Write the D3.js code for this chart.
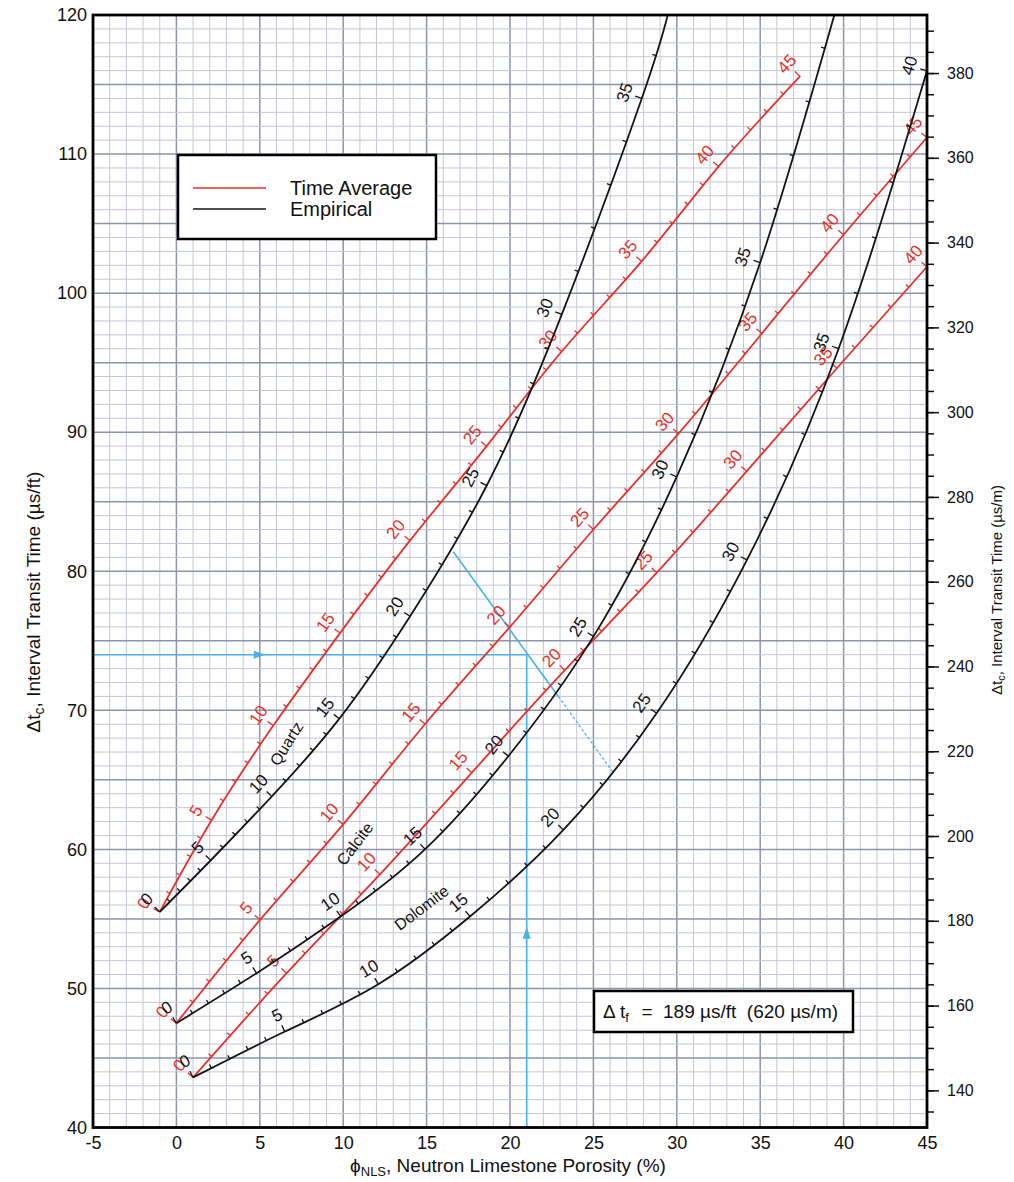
<!DOCTYPE html>
<html>
<head>
<meta charset="utf-8">
<script src="https://d3js.org/d3.v7.min.js"></script>
<title>Sonic - neutron crossplot</title>
<style>
body { margin: 0; background: #fff; }
svg { font-family: "Liberation Sans", Arial, Helvetica, sans-serif; }
</style>
</head>
<body>
<svg id="chart" width="1014" height="1182"></svg>
<script>
// tick labels
var phiTicks = [-5, 0, 5, 10, 15, 20, 25, 30, 35, 40, 45];
var dtFtTicks = [40, 50, 60, 70, 80, 90, 100, 110, 120];
var dtMTicks = [140, 160, 180, 200, 220, 240, 260, 280, 300, 320, 340, 360, 380];

// curves: [true porosity, neutron limestone porosity, delta t (us/ft)]
var quartzEmp = [[0, -1.0, 55.5], [5, 2.05, 59.2], [10, 5.71, 63.8], [15, 9.77, 69.4], [20, 14.0, 76.75],
                 [25, 18.6, 86.15], [30, 23.1, 98.45], [35, 27.9, 114.0], [37, 29.5, 120.2]];
var quartzTA = [[0, -1.0, 55.5], [5, 2.11, 62.1], [10, 5.81, 68.9], [15, 9.81, 75.55], [20, 14.0, 82.2],
                [25, 18.6, 89.0], [30, 23.1, 95.8], [35, 27.9, 102.3], [40, 32.5, 109.1], [45, 37.4, 115.6]];
var calciteEmp = [[0, 0, 47.5], [5, 4.81, 51.1], [10, 9.85, 55.17], [15, 14.9, 60.0], [20, 19.9, 66.7],
                  [25, 25.0, 75.3], [30, 30.0, 86.8], [35, 35.0, 102.2], [40, 39.8, 121.5]];
var calciteTA = [[0, 0, 47.5], [5, 5.01, 54.93], [10, 10.0, 61.8], [15, 14.9, 69.0], [20, 20.0, 76.0],
                 [25, 25.0, 83.0], [30, 30.1, 89.9], [35, 35.1, 97.1], [40, 40.0, 104.2], [45, 45.0, 111.2]];
var dolomiteEmp = [[0, 1.0, 43.6], [5, 6.51, 46.9], [10, 12.1, 50.3], [15, 17.6, 55.17], [20, 23.2, 61.4],
                   [25, 28.8, 69.8], [30, 34.2, 80.8], [35, 39.7, 96.0], [40, 45.0, 116.0]];
var dolomiteTA = [[0, 1.0, 43.6], [5, 6.61, 51.1], [10, 12.2, 58.2], [15, 17.7, 65.5], [20, 23.3, 72.9],
                  [25, 28.8, 79.9], [30, 34.2, 87.2], [35, 39.6, 94.6], [40, 45.0, 101.9]];

// mineral names: [name, phiNLS, delta t, angle]
var mineralLabels = [["Quartz", 6.6, 67.6, -58], ["Calcite", 10.7, 60.4, -53], ["Dolomite", 14.7, 55.8, -37]];

// example entry (blue)
var exampleDt = 74;
var examplePhi = 21;
var exampleSolid = [[16.6, 81.4], [22.9, 71.0]];
var exampleDash = [[22.9, 71.0], [26.2, 65.5]];

var red = "#e4322b", black = "#141414", blue = "#4ab2e6";
var plotL = 93, plotR = 927, plotT = 15, plotB = 1127.5;
var ftToM = 3.2808;

var svg = d3.select("#chart");
var x = d3.scaleLinear().domain([-5, 45]).range([plotL, plotR]);
var y = d3.scaleLinear().domain([40, 120]).range([plotB, plotT]);
var yM = d3.scaleLinear().domain([40 * ftToM, 120 * ftToM]).range([plotB, plotT]);

svg.append("rect").attr("width", 1014).attr("height", 1182).attr("fill", "#fff");

// grid
var grid = svg.append("g");
d3.range(-5, 46).forEach(function(v) {
    grid.append("line").attr("x1", x(v)).attr("x2", x(v)).attr("y1", plotT).attr("y2", plotB)
        .attr("stroke", v % 5 === 0 ? "#8e94aa" : "#c3c7d6").attr("stroke-width", v % 5 === 0 ? 1.5 : 1);
});
d3.range(40, 121).forEach(function(v) {
    grid.append("line").attr("y1", y(v)).attr("y2", y(v)).attr("x1", plotL).attr("x2", plotR)
        .attr("stroke", v % 5 === 0 ? "#8e94aa" : "#c3c7d6").attr("stroke-width", v % 5 === 0 ? 1.5 : 1);
});

svg.append("clipPath").attr("id", "plotclip").append("rect")
    .attr("x", plotL).attr("y", plotT).attr("width", plotR - plotL + 1).attr("height", plotB - plotT);

// blue example lines
var ex = svg.append("g").attr("stroke", blue).attr("stroke-width", 1.6).attr("fill", "none");
ex.append("line").attr("x1", x(-5)).attr("x2", x(examplePhi)).attr("y1", y(exampleDt)).attr("y2", y(exampleDt));
ex.append("line").attr("x1", x(examplePhi)).attr("x2", x(examplePhi)).attr("y1", y(40)).attr("y2", y(exampleDt));
ex.append("line").attr("x1", x(exampleSolid[0][0])).attr("y1", y(exampleSolid[0][1]))
    .attr("x2", x(exampleSolid[1][0])).attr("y2", y(exampleSolid[1][1]));
ex.append("line").attr("x1", x(exampleDash[0][0])).attr("y1", y(exampleDash[0][1]))
    .attr("x2", x(exampleDash[1][0])).attr("y2", y(exampleDash[1][1]))
    .attr("stroke-dasharray", "3,2").attr("stroke-width", 1.2);
// arrows
var ax = x(5), ay = y(exampleDt);
svg.append("path").attr("fill", blue)
    .attr("d", "M" + (ax + 6) + "," + ay + "L" + (ax - 6) + "," + (ay - 4) + "L" + (ax - 6) + "," + (ay + 4) + "Z");
var bx = x(examplePhi), by = y(54);
svg.append("path").attr("fill", blue)
    .attr("d", "M" + bx + "," + (by - 6) + "L" + (bx - 4) + "," + (by + 6) + "L" + (bx + 4) + "," + (by + 6) + "Z");

// curves with porosity ticks
var curves = svg.append("g");
var line = d3.line().curve(d3.curveNatural);

function drawCurve(pts, color) {
    var xy = pts.map(function(d) { return [x(d[1]), y(d[2])]; });
    var path = curves.append("path").attr("d", line(xy)).attr("fill", "none")
        .attr("stroke", color).attr("stroke-width", 1.8).attr("clip-path", "url(#plotclip)");
    var node = path.node();
    var total = node.getTotalLength();
    var samples = [];
    for (var l = 0; l <= total; l += 0.5) {
        var p = node.getPointAtLength(l);
        samples.push([l, p.x, p.y]);
    }
    var k = 0;
    var lens = xy.map(function(q) {
        var best = Infinity, bi = k;
        for (var j = k; j < samples.length; j++) {
            var dd = Math.pow(samples[j][1] - q[0], 2) + Math.pow(samples[j][2] - q[1], 2);
            if (dd < best) { best = dd; bi = j; }
        }
        k = bi;
        return samples[bi][0];
    });
    var last = pts[pts.length - 1][0];
    for (var por = pts[0][0]; por <= last; por++) {
        var i = 0;
        while (i < pts.length - 2 && por > pts[i + 1][0]) i++;
        var f = (por - pts[i][0]) / (pts[i + 1][0] - pts[i][0]);
        var L = lens[i] + f * (lens[i + 1] - lens[i]);
        var c = node.getPointAtLength(L);
        if (c.x > plotR + 1.5 || c.y < plotT - 1) continue;
        var a = node.getPointAtLength(Math.max(0, L - 1.5));
        var b = node.getPointAtLength(Math.min(total, L + 1.5));
        var len = Math.hypot(b.x - a.x, b.y - a.y);
        var tx = (b.x - a.x) / len, ty = (b.y - a.y) / len;
        var nx = ty, ny = -tx;
        var major = por % 5 === 0;
        var tl = major ? 7 : 4;
        curves.append("line").attr("x1", c.x).attr("y1", c.y)
            .attr("x2", c.x + nx * tl).attr("y2", c.y + ny * tl)
            .attr("stroke", color).attr("stroke-width", 1.3);
        if (major) {
            var lx = c.x + nx * 18, ly = c.y + ny * 18;
            var ang = Math.atan2(ty, tx) * 180 / Math.PI;
            curves.append("text").attr("x", lx).attr("y", ly)
                .attr("transform", "rotate(" + ang + "," + lx + "," + ly + ")")
                .attr("text-anchor", "middle").attr("dominant-baseline", "central")
                .attr("font-size", 17).attr("fill", color).text(por);
        }
    }
}

drawCurve(quartzTA, red);
drawCurve(calciteTA, red);
drawCurve(dolomiteTA, red);
drawCurve(quartzEmp, black);
drawCurve(calciteEmp, black);
drawCurve(dolomiteEmp, black);

mineralLabels.forEach(function(d) {
    var lx = x(d[1]), ly = y(d[2]);
    svg.append("text").attr("x", lx).attr("y", ly)
        .attr("transform", "rotate(" + d[3] + "," + lx + "," + ly + ")")
        .attr("text-anchor", "middle").attr("dominant-baseline", "central")
        .attr("font-size", 16).attr("fill", black).text(d[0]);
});

// legend
var lg = svg.append("g");
lg.append("rect").attr("x", 178).attr("y", 155).attr("width", 258).attr("height", 84)
    .attr("fill", "#fff").attr("stroke", "#000").attr("stroke-width", 2.5);
lg.append("line").attr("x1", 193).attr("x2", 266).attr("y1", 188).attr("y2", 188).attr("stroke", red).attr("stroke-width", 1.6);
lg.append("line").attr("x1", 193).attr("x2", 266).attr("y1", 209).attr("y2", 209).attr("stroke", black).attr("stroke-width", 1.6);
lg.append("text").attr("x", 290).attr("y", 195).attr("font-size", 20).attr("fill", "#111").text("Time Average");
lg.append("text").attr("x", 290).attr("y", 216).attr("font-size", 20).attr("fill", "#111").text("Empirical");

// fluid note
var nb = svg.append("g");
nb.append("rect").attr("x", 594).attr("y", 991).attr("width", 259).attr("height", 41)
    .attr("fill", "#fff").attr("stroke", "#000").attr("stroke-width", 2.5);
var nt = nb.append("text").attr("x", 603).attr("y", 1018).attr("font-size", 19)
    .attr("fill", "#111").style("white-space", "pre");
nt.append("tspan").text("\u0394 t");
nt.append("tspan").attr("baseline-shift", "-4").attr("font-size", 13).text("f");
nt.append("tspan").attr("dx", 2).text("  =  189 \u00b5s/ft  (620 \u00b5s/m)");

// axes
var gx = svg.append("g").attr("transform", "translate(0," + plotB + ")")
    .call(d3.axisBottom(x).tickValues(phiTicks).tickSize(0).tickPadding(9).tickFormat(function(d) { return String(d); }));
var gl = svg.append("g").attr("transform", "translate(" + plotL + ",0)")
    .call(d3.axisLeft(y).tickValues(dtFtTicks).tickSize(0).tickPadding(6));
var grm = svg.append("g").attr("transform", "translate(" + plotR + ",0)")
    .call(d3.axisRight(yM).tickValues(d3.range(135, 391, 5)).tickSize(7).tickFormat(""));
var gr = svg.append("g").attr("transform", "translate(" + plotR + ",0)")
    .call(d3.axisRight(yM).tickValues(dtMTicks).tickSize(12).tickPadding(8));
[gx, gl, grm, gr].forEach(function(g) {
    g.select(".domain").remove();
    g.selectAll("text").attr("fill", "#111").style("font-family", "Liberation Sans, Arial, sans-serif");
    g.selectAll("line").attr("stroke", "#111").attr("stroke-width", 1.5);
});
gx.selectAll("text").attr("font-size", 18);
gl.selectAll("text").attr("font-size", 18);
gr.selectAll("text").attr("font-size", 16);

// frame
svg.append("rect").attr("x", plotL).attr("y", plotT).attr("width", plotR - plotL).attr("height", plotB - plotT)
    .attr("fill", "none").attr("stroke", "#000").attr("stroke-width", 2.8);

// axis titles
var lt = svg.append("text").attr("transform", "translate(40,602) rotate(-90)")
    .attr("text-anchor", "middle").attr("font-size", 19).attr("fill", "#111");
lt.append("tspan").text("\u0394t");
lt.append("tspan").attr("baseline-shift", "-4").attr("font-size", 14).text("c");
lt.append("tspan").text(", Interval Transit Time (\u00b5s/ft)");

var rt = svg.append("text").attr("transform", "translate(1002,590) rotate(-90)")
    .attr("text-anchor", "middle").attr("font-size", 15).attr("fill", "#111");
rt.append("tspan").text("\u0394t");
rt.append("tspan").attr("baseline-shift", "-3").attr("font-size", 11).text("c");
rt.append("tspan").text(", Interval Transit Time (\u00b5s/m)");

var bt = svg.append("text").attr("x", 508).attr("y", 1172)
    .attr("text-anchor", "middle").attr("font-size", 19).attr("fill", "#111");
bt.append("tspan").text("\u03d5");
bt.append("tspan").attr("baseline-shift", "-4").attr("font-size", 13).text("NLS");
bt.append("tspan").text(", Neutron Limestone Porosity (%)");
</script>
</body>
</html>
